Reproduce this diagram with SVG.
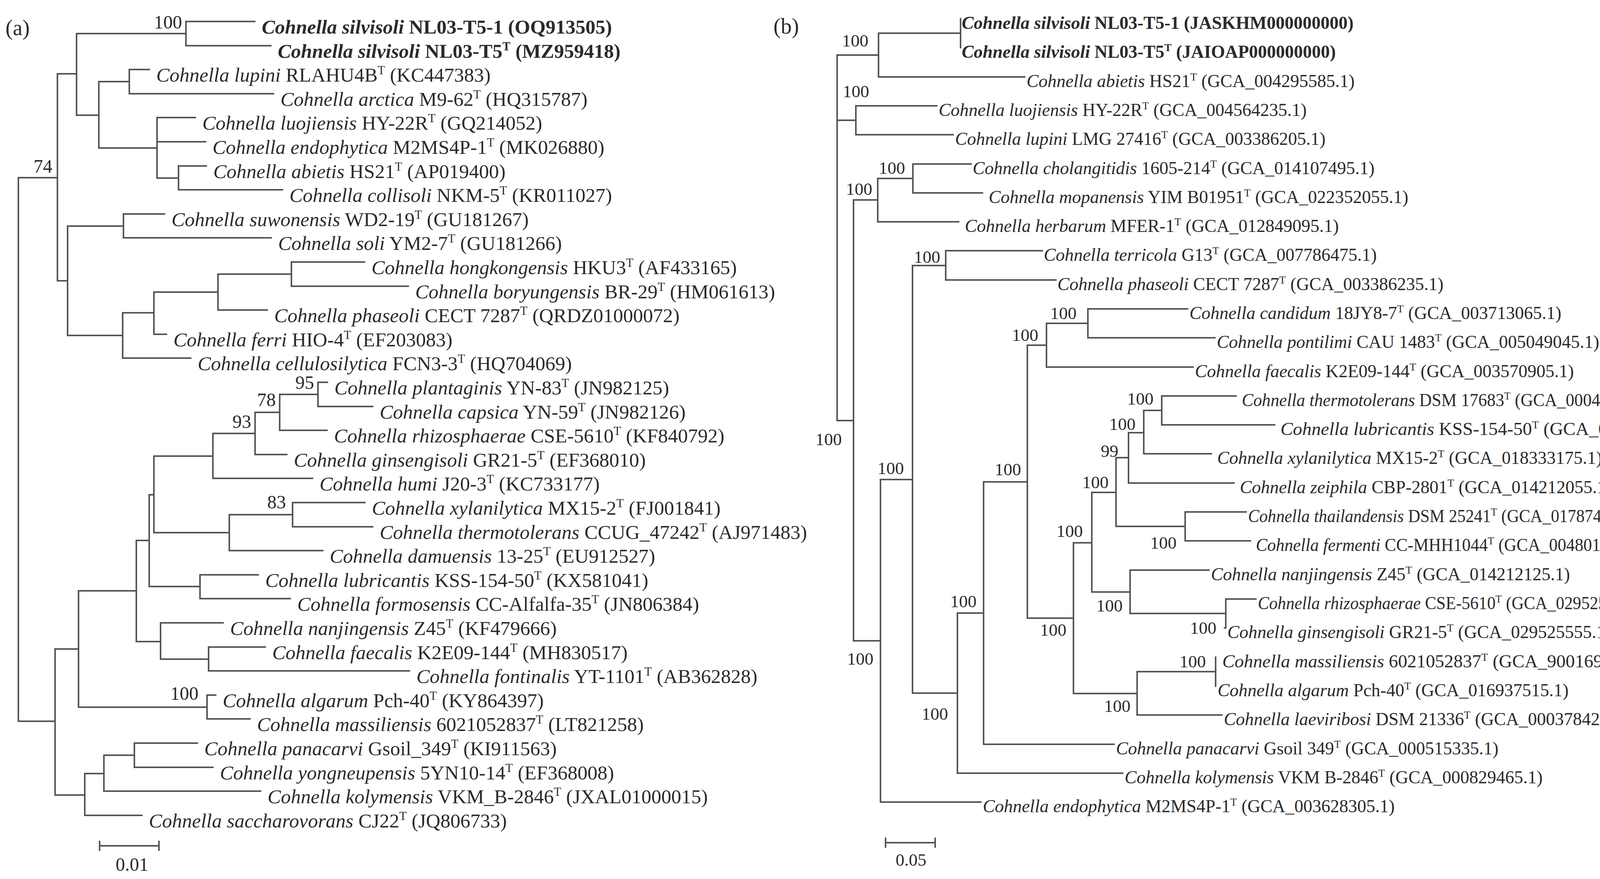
<svg xmlns="http://www.w3.org/2000/svg" width="4367" height="2251" viewBox="0 0 4367 2251">
<style>
text{font-family:"Liberation Serif","Times New Roman",serif;fill:#2a2a2a}
.a{font-size:51px}.b{font-size:46px}
.i{font-style:italic}.bd{font-weight:bold}
.s{font-size:60%}
.n{font-size:48px;text-anchor:end}.nb{font-size:45px;text-anchor:end}
.p{font-size:56px}
.e{fill:none;stroke:#555;stroke-width:4;stroke-linecap:square}
</style>
<rect width="4367" height="2251" fill="#fff"/>
<g id="connectors" class="e">
<path d="M47 455 V1847 M47 455 H147 M147 189 V719 M147 189 H196 M196 86 V295 M196 86 H476 M476 55 V117 M476 55 H652 M476 117 H693 M196 295 H253 M253 209 V379 M253 209 H331 M331 178 V240 M331 178 H382 M331 240 H700 M253 379 H402 M402 301 V456 M402 301 H500 M402 363 H526 M402 456 H457 M457 425 V486 M457 425 H528 M457 486 H723 M147 719 H173 M173 579 V859 M173 579 H316 M316 548 V609 M316 548 H421 M316 609 H694 M173 859 H314 M314 801 V917 M314 917 H488 M314 801 H394 M394 748 V856 M394 856 H426 M394 748 H558 M558 702 V794 M558 794 H684 M558 702 H746 M746 671 V733 M746 671 H933 M746 733 H1045 M47 1847 H141 M141 1662 V2036 M141 1662 H201 M201 1513 V1811 M201 1811 H530 M530 1780 V1841 M530 1780 H552 M530 1841 H640 M201 1513 H349 M349 1384 V1643 M349 1384 H382 M382 1267 V1502 M382 1502 H512 M512 1472 V1533 M512 1472 H661 M512 1533 H743 M382 1267 H394 M394 1168 V1364 M394 1364 H587 M587 1318 V1410 M587 1410 H826 M587 1318 H749 M749 1287 V1349 M749 1287 H934 M749 1349 H954 M394 1168 H545 M545 1110 V1225 M545 1225 H800 M545 1110 H653 M653 1056 V1164 M653 1164 H734 M653 1056 H716 M716 1010 V1102 M716 1102 H837 M716 1010 H814 M814 979 V1041 M814 979 H838 M814 1041 H954 M349 1643 H411 M411 1595 V1688 M411 1595 H571 M411 1688 H534 M534 1657 V1718 M534 1657 H679 M534 1718 H1048 M141 2036 H217 M217 1981 V2088 M217 2088 H363 M217 1981 H266 M266 1934 V2026 M266 2026 H667 M266 1934 H344 M344 1903 V1965 M344 1903 H505 M344 1965 H545 M255 2166 H407 M255 2155 V2177 M407 2155 V2177"/>
<path d="M2143 141 V1077 M2143 141 H2249 M2249 85 V197 M2249 197 H2623 M2249 85 H2459 M2459 48 V122 M2143 308 H2191 M2191 271 V345 M2191 271 H2398 M2191 345 H2440 M2143 1077 H2185 M2185 512 V1641 M2185 512 H2247 M2247 457 V568 M2247 568 H2454 M2247 457 H2337 M2337 420 V494 M2337 420 H2486 M2337 494 H2515 M2185 1641 H2254 M2254 1228 V2054 M2254 2054 H2511 M2254 1228 H2336 M2336 680 V1775 M2336 680 H2421 M2421 642 V717 M2421 642 H2668 M2421 717 H2703 M2336 1775 H2451 M2451 1570 V1980 M2451 1980 H2874 M2451 1570 H2518 M2518 1234 V1906 M2518 1906 H2852 M2518 1234 H2630 M2630 884 V1583 M2630 884 H2679 M2679 828 V940 M2679 940 H3054 M2679 828 H2785 M2785 791 V865 M2785 791 H3040 M2785 865 H3110 M2630 1583 H2748 M2748 1390 V1776 M2748 1390 H2795 M2795 1261 V1516 M2795 1261 H2857 M2857 1172 V1348 M2857 1172 H2889 M2889 1108 V1237 M2889 1237 H3159 M2889 1108 H2928 M2928 1051 V1162 M2928 1162 H3101 M2928 1051 H2974 M2974 1014 V1088 M2974 1014 H3164 M2974 1088 H3263 M2857 1348 H3034 M3034 1311 V1385 M3034 1311 H3190 M3034 1385 H3201 M2795 1516 H2893 M2893 1460 V1571 M2893 1460 H3095 M2893 1571 H3138 M3138 1534 V1608 M3138 1534 H3215 M3138 1608 H3135 M2748 1776 H2911 M2911 1720 V1831 M2911 1831 H3128 M2911 1720 H3112 M3112 1683 V1757 M2267 2158 H2394 M2267 2147 V2169 M2394 2147 V2169"/>
</g>
<g id="panel-labels">
<text class="p" x="14" y="90">(a)</text>
<text class="p" x="1980" y="86">(b)</text>
<text class="n" x="338" y="2230" style="text-anchor:middle">0.01</text>
<text class="nb" x="2332" y="2217" style="text-anchor:middle">0.05</text>
</g>
<g id="support-a">
<text class="n" x="466" y="73">100</text>
<text class="n" x="134" y="442">74</text>
<text class="n" x="804" y="996">95</text>
<text class="n" x="706" y="1040">78</text>
<text class="n" x="643" y="1096">93</text>
<text class="n" x="732" y="1302">83</text>
<text class="n" x="508" y="1792">100</text>
</g>
<g id="support-b">
<text class="nb" x="2223" y="119">100</text>
<text class="nb" x="2225" y="249">100</text>
<text class="nb" x="2317" y="445">100</text>
<text class="nb" x="2233" y="499">100</text>
<text class="nb" x="2407" y="673">100</text>
<text class="nb" x="2756" y="817">100</text>
<text class="nb" x="2658" y="873">100</text>
<text class="nb" x="2155" y="1140">100</text>
<text class="nb" x="2314" y="1214">100</text>
<text class="nb" x="2614" y="1217">100</text>
<text class="nb" x="2838" y="1250">100</text>
<text class="nb" x="2772" y="1375">100</text>
<text class="nb" x="2863" y="1170">99</text>
<text class="nb" x="2907" y="1101">100</text>
<text class="nb" x="2953" y="1036">100</text>
<text class="nb" x="3012" y="1405">100</text>
<text class="nb" x="2500" y="1555">100</text>
<text class="nb" x="2874" y="1566">100</text>
<text class="nb" x="3114" y="1623">100</text>
<text class="nb" x="2730" y="1628">100</text>
<text class="nb" x="2236" y="1702">100</text>
<text class="nb" x="3087" y="1709">100</text>
<text class="nb" x="2894" y="1823">100</text>
<text class="nb" x="2427" y="1843">100</text>
</g>
<g id="taxa-a" class="a">
<g id="a0"><text x="670" y="86" class="bd"><tspan class="i">Cohnella silvisoli</tspan> NL03-T5-1 (OQ913505)</text></g>
<g id="a1"><text x="711" y="148" class="bd"><tspan class="i">Cohnella silvisoli</tspan> NL03-T5<tspan class="s" dy="-19">T</tspan><tspan dy="19"> (MZ959418)</tspan></text></g>
<g id="a2"><text x="400" y="209"><tspan class="i">Cohnella lupini</tspan> RLAHU4B<tspan class="s" dy="-19">T</tspan><tspan dy="19"> (KC447383)</tspan></text></g>
<g id="a3"><text x="718" y="271"><tspan class="i">Cohnella arctica</tspan> M9-62<tspan class="s" dy="-19">T</tspan><tspan dy="19"> (HQ315787)</tspan></text></g>
<g id="a4"><text x="518" y="332"><tspan class="i">Cohnella luojiensis</tspan> HY-22R<tspan class="s" dy="-19">T</tspan><tspan dy="19"> (GQ214052)</tspan></text></g>
<g id="a5"><text x="544" y="394"><tspan class="i">Cohnella endophytica</tspan> M2MS4P-1<tspan class="s" dy="-19">T</tspan><tspan dy="19"> (MK026880)</tspan></text></g>
<g id="a6"><text x="546" y="456"><tspan class="i">Cohnella abietis</tspan> HS21<tspan class="s" dy="-19">T</tspan><tspan dy="19"> (AP019400)</tspan></text></g>
<g id="a7"><text x="741" y="517"><tspan class="i">Cohnella collisoli</tspan> NKM-5<tspan class="s" dy="-19">T</tspan><tspan dy="19"> (KR011027)</tspan></text></g>
<g id="a8"><text x="439" y="579"><tspan class="i">Cohnella suwonensis</tspan> WD2-19<tspan class="s" dy="-19">T</tspan><tspan dy="19"> (GU181267)</tspan></text></g>
<g id="a9"><text x="712" y="640"><tspan class="i">Cohnella soli</tspan> YM2-7<tspan class="s" dy="-19">T</tspan><tspan dy="19"> (GU181266)</tspan></text></g>
<g id="a10"><text x="951" y="702"><tspan class="i">Cohnella hongkongensis</tspan> HKU3<tspan class="s" dy="-19">T</tspan><tspan dy="19"> (AF433165)</tspan></text></g>
<g id="a11"><text x="1063" y="764"><tspan class="i">Cohnella boryungensis</tspan> BR-29<tspan class="s" dy="-19">T</tspan><tspan dy="19"> (HM061613)</tspan></text></g>
<g id="a12"><text x="702" y="825"><tspan class="i">Cohnella phaseoli</tspan> CECT 7287<tspan class="s" dy="-19">T</tspan><tspan dy="19"> (QRDZ01000072)</tspan></text></g>
<g id="a13"><text x="444" y="887"><tspan class="i">Cohnella ferri</tspan> HIO-4<tspan class="s" dy="-19">T</tspan><tspan dy="19"> (EF203083)</tspan></text></g>
<g id="a14"><text x="506" y="948"><tspan class="i">Cohnella cellulosilytica</tspan> FCN3-3<tspan class="s" dy="-19">T</tspan><tspan dy="19"> (HQ704069)</tspan></text></g>
<g id="a15"><text x="856" y="1010"><tspan class="i">Cohnella plantaginis</tspan> YN-83<tspan class="s" dy="-19">T</tspan><tspan dy="19"> (JN982125)</tspan></text></g>
<g id="a16"><text x="972" y="1072"><tspan class="i">Cohnella capsica</tspan> YN-59<tspan class="s" dy="-19">T</tspan><tspan dy="19"> (JN982126)</tspan></text></g>
<g id="a17"><text x="855" y="1133"><tspan class="i">Cohnella rhizosphaerae</tspan> CSE-5610<tspan class="s" dy="-19">T</tspan><tspan dy="19"> (KF840792)</tspan></text></g>
<g id="a18"><text x="752" y="1195"><tspan class="i">Cohnella ginsengisoli</tspan> GR21-5<tspan class="s" dy="-19">T</tspan><tspan dy="19"> (EF368010)</tspan></text></g>
<g id="a19"><text x="818" y="1256"><tspan class="i">Cohnella humi</tspan> J20-3<tspan class="s" dy="-19">T</tspan><tspan dy="19"> (KC733177)</tspan></text></g>
<g id="a20"><text x="952" y="1318"><tspan class="i">Cohnella xylanilytica</tspan> MX15-2<tspan class="s" dy="-19">T</tspan><tspan dy="19"> (FJ001841)</tspan></text></g>
<g id="a21"><text x="972" y="1380"><tspan class="i">Cohnella thermotolerans</tspan> CCUG_47242<tspan class="s" dy="-19">T</tspan><tspan dy="19"> (AJ971483)</tspan></text></g>
<g id="a22"><text x="844" y="1441"><tspan class="i">Cohnella damuensis</tspan> 13-25<tspan class="s" dy="-19">T</tspan><tspan dy="19"> (EU912527)</tspan></text></g>
<g id="a23"><text x="679" y="1503"><tspan class="i">Cohnella lubricantis</tspan> KSS-154-50<tspan class="s" dy="-19">T</tspan><tspan dy="19"> (KX581041)</tspan></text></g>
<g id="a24"><text x="761" y="1564"><tspan class="i">Cohnella formosensis</tspan> CC-Alfalfa-35<tspan class="s" dy="-19">T</tspan><tspan dy="19"> (JN806384)</tspan></text></g>
<g id="a25"><text x="589" y="1626"><tspan class="i">Cohnella nanjingensis</tspan> Z45<tspan class="s" dy="-19">T</tspan><tspan dy="19"> (KF479666)</tspan></text></g>
<g id="a26"><text x="697" y="1688"><tspan class="i">Cohnella faecalis</tspan> K2E09-144<tspan class="s" dy="-19">T</tspan><tspan dy="19"> (MH830517)</tspan></text></g>
<g id="a27"><text x="1066" y="1749"><tspan class="i">Cohnella fontinalis</tspan> YT-1101<tspan class="s" dy="-19">T</tspan><tspan dy="19"> (AB362828)</tspan></text></g>
<g id="a28"><text x="570" y="1811"><tspan class="i">Cohnella algarum</tspan> Pch-40<tspan class="s" dy="-19">T</tspan><tspan dy="19"> (KY864397)</tspan></text></g>
<g id="a29"><text x="658" y="1872"><tspan class="i">Cohnella massiliensis</tspan> 6021052837<tspan class="s" dy="-19">T</tspan><tspan dy="19"> (LT821258)</tspan></text></g>
<g id="a30"><text x="523" y="1934"><tspan class="i">Cohnella panacarvi</tspan> Gsoil_349<tspan class="s" dy="-19">T</tspan><tspan dy="19"> (KI911563)</tspan></text></g>
<g id="a31"><text x="563" y="1996"><tspan class="i">Cohnella yongneupensis</tspan> 5YN10-14<tspan class="s" dy="-19">T</tspan><tspan dy="19"> (EF368008)</tspan></text></g>
<g id="a32"><text x="685" y="2057"><tspan class="i">Cohnella kolymensis</tspan> VKM_B-2846<tspan class="s" dy="-19">T</tspan><tspan dy="19"> (JXAL01000015)</tspan></text></g>
<g id="a33"><text x="381" y="2119"><tspan class="i">Cohnella saccharovorans</tspan> CJ22<tspan class="s" dy="-19">T</tspan><tspan dy="19"> (JQ806733)</tspan></text></g>
</g>
<g id="taxa-b" class="b">
<g id="b0"><text x="2462" y="74" class="bd"><tspan class="i">Cohnella silvisoli</tspan> NL03-T5-1 (JASKHM000000000)</text></g>
<g id="b1"><text x="2462" y="148" class="bd"><tspan class="i">Cohnella silvisoli</tspan> NL03-T5<tspan class="s" dy="-17">T</tspan><tspan dy="17"> (JAIOAP000000000)</tspan></text></g>
<g id="b2"><text x="2628" y="223"><tspan class="i">Cohnella abietis</tspan> HS21<tspan class="s" dy="-17">T</tspan><tspan dy="17"> (GCA_004295585.1)</tspan></text></g>
<g id="b3"><text x="2403" y="297"><tspan class="i">Cohnella luojiensis</tspan> HY-22R<tspan class="s" dy="-17">T</tspan><tspan dy="17"> (GCA_004564235.1)</tspan></text></g>
<g id="b4"><text x="2445" y="371"><tspan class="i">Cohnella lupini</tspan> LMG 27416<tspan class="s" dy="-17">T</tspan><tspan dy="17"> (GCA_003386205.1)</tspan></text></g>
<g id="b5"><text x="2490" y="446"><tspan class="i">Cohnella cholangitidis</tspan> 1605-214<tspan class="s" dy="-17">T</tspan><tspan dy="17"> (GCA_014107495.1)</tspan></text></g>
<g id="b6"><text x="2531" y="520"><tspan class="i">Cohnella mopanensis</tspan> YIM B01951<tspan class="s" dy="-17">T</tspan><tspan dy="17"> (GCA_022352055.1)</tspan></text></g>
<g id="b7"><text x="2470" y="594"><tspan class="i">Cohnella herbarum</tspan> MFER-1<tspan class="s" dy="-17">T</tspan><tspan dy="17"> (GCA_012849095.1)</tspan></text></g>
<g id="b8"><text x="2672" y="668"><tspan class="i">Cohnella terricola</tspan> G13<tspan class="s" dy="-17">T</tspan><tspan dy="17"> (GCA_007786475.1)</tspan></text></g>
<g id="b9"><text x="2707" y="743"><tspan class="i">Cohnella phaseoli</tspan> CECT 7287<tspan class="s" dy="-17">T</tspan><tspan dy="17"> (GCA_003386235.1)</tspan></text></g>
<g id="b10"><text x="3045" y="817"><tspan class="i">Cohnella candidum</tspan> 18JY8-7<tspan class="s" dy="-17">T</tspan><tspan dy="17"> (GCA_003713065.1)</tspan></text></g>
<g id="b11"><text x="3115" y="891"><tspan class="i">Cohnella pontilimi</tspan> CAU 1483<tspan class="s" dy="-17">T</tspan><tspan dy="17"> (GCA_005049045.1)</tspan></text></g>
<g id="b12"><text x="3059" y="966"><tspan class="i">Cohnella faecalis</tspan> K2E09-144<tspan class="s" dy="-17">T</tspan><tspan dy="17"> (GCA_003570905.1)</tspan></text></g>
<g id="b13"><text x="3179" y="1040" textLength="1076" lengthAdjust="spacingAndGlyphs"><tspan class="i">Cohnella thermotolerans</tspan> DSM 17683<tspan class="s" dy="-17">T</tspan><tspan dy="17"> (GCA_000429825.1)</tspan></text></g>
<g id="b14"><text x="3278" y="1114" textLength="1080" lengthAdjust="spacingAndGlyphs"><tspan class="i">Cohnella lubricantis</tspan> KSS-154-50<tspan class="s" dy="-17">T</tspan><tspan dy="17"> (GCA_017874835.1)</tspan></text></g>
<g id="b15"><text x="3116" y="1188"><tspan class="i">Cohnella xylanilytica</tspan> MX15-2<tspan class="s" dy="-17">T</tspan><tspan dy="17"> (GCA_018333175.1)</tspan></text></g>
<g id="b16"><text x="3174" y="1263"><tspan class="i">Cohnella zeiphila</tspan> CBP-2801<tspan class="s" dy="-17">T</tspan><tspan dy="17"> (GCA_014212055.1)</tspan></text></g>
<g id="b17"><text x="3195" y="1337" textLength="1016" lengthAdjust="spacingAndGlyphs"><tspan class="i">Cohnella thailandensis</tspan> DSM 25241<tspan class="s" dy="-17">T</tspan><tspan dy="17"> (GCA_017874075.1)</tspan></text></g>
<g id="b18"><text x="3215" y="1411" textLength="996" lengthAdjust="spacingAndGlyphs"><tspan class="i">Cohnella fermenti</tspan> CC-MHH1044<tspan class="s" dy="-17">T</tspan><tspan dy="17"> (GCA_004801405.1)</tspan></text></g>
<g id="b19"><text x="3100" y="1486"><tspan class="i">Cohnella nanjingensis</tspan> Z45<tspan class="s" dy="-17">T</tspan><tspan dy="17"> (GCA_014212125.1)</tspan></text></g>
<g id="b20"><text x="3220" y="1560" textLength="1005" lengthAdjust="spacingAndGlyphs"><tspan class="i">Cohnella rhizosphaerae</tspan> CSE-5610<tspan class="s" dy="-17">T</tspan><tspan dy="17"> (GCA_029525575.1)</tspan></text></g>
<g id="b21"><text x="3142" y="1634"><tspan class="i">Cohnella ginsengisoli</tspan> GR21-5<tspan class="s" dy="-17">T</tspan><tspan dy="17"> (GCA_029525555.1)</tspan></text></g>
<g id="b22"><text x="3129" y="1709" textLength="1096" lengthAdjust="spacingAndGlyphs"><tspan class="i">Cohnella massiliensis</tspan> 6021052837<tspan class="s" dy="-17">T</tspan><tspan dy="17"> (GCA_900169535.1)</tspan></text></g>
<g id="b23"><text x="3117" y="1783"><tspan class="i">Cohnella algarum</tspan> Pch-40<tspan class="s" dy="-17">T</tspan><tspan dy="17"> (GCA_016937515.1)</tspan></text></g>
<g id="b24"><text x="3133" y="1857"><tspan class="i">Cohnella laeviribosi</tspan> DSM 21336<tspan class="s" dy="-17">T</tspan><tspan dy="17"> (GCA_000378425.1)</tspan></text></g>
<g id="b25"><text x="2857" y="1932"><tspan class="i">Cohnella panacarvi</tspan> Gsoil 349<tspan class="s" dy="-17">T</tspan><tspan dy="17"> (GCA_000515335.1)</tspan></text></g>
<g id="b26"><text x="2879" y="2006"><tspan class="i">Cohnella kolymensis</tspan> VKM B-2846<tspan class="s" dy="-17">T</tspan><tspan dy="17"> (GCA_000829465.1)</tspan></text></g>
<g id="b27"><text x="2516" y="2080"><tspan class="i">Cohnella endophytica</tspan> M2MS4P-1<tspan class="s" dy="-17">T</tspan><tspan dy="17"> (GCA_003628305.1)</tspan></text></g>
</g>
</svg>
